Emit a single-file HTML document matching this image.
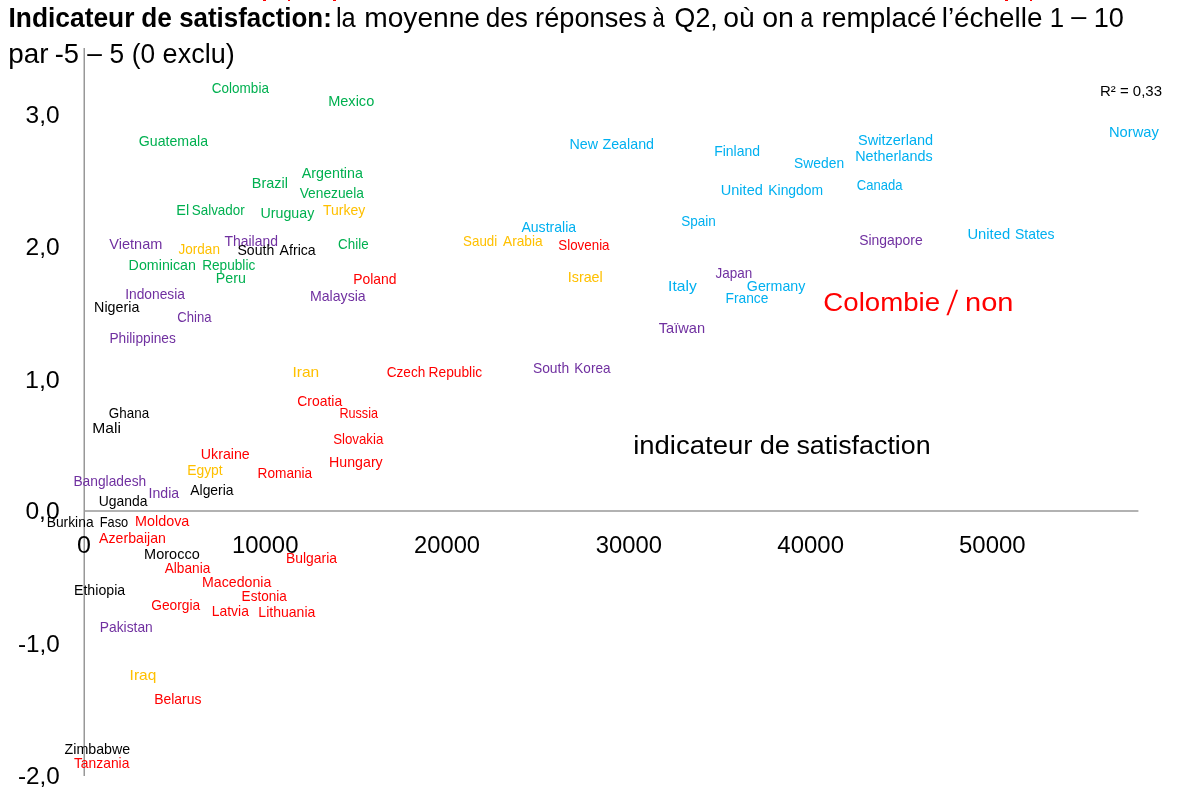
<!DOCTYPE html>
<html lang="fr"><head><meta charset="utf-8"><title>Indicateur de satisfaction</title>
<style>html,body{margin:0;padding:0;background:#fff;}svg{display:block;}text{font-family:"Liberation Sans",sans-serif;}</style></head><body>
<svg width="1181" height="793" viewBox="0 0 1181 793">
<rect width="1181" height="793" fill="#fff"/>
<rect x="263" y="0" width="3" height="1" fill="#ff0000"/>
<rect x="288" y="0" width="2" height="1" fill="#ff0000"/>
<rect x="333" y="0" width="3" height="1" fill="#ff0000"/>
<rect x="1005" y="0" width="3" height="1" fill="#ff0000"/>
<rect x="1030" y="0" width="2" height="1" fill="#ff0000"/>
<line x1="84.25" y1="48" x2="84.25" y2="776" stroke="#989898" stroke-width="1.5"/>
<line x1="84" y1="510.9" x2="1138.4" y2="510.9" stroke="#989898" stroke-width="1.5"/>
<text id="t0" x="8.55" y="26.8" font-size="27.2" fill="#000" font-weight="bold" textLength="125.88" lengthAdjust="spacingAndGlyphs">Indicateur</text>
<text id="t1" x="141.28" y="26.8" font-size="27.2" fill="#000" font-weight="bold" textLength="30.62" lengthAdjust="spacingAndGlyphs">de</text>
<text id="t2" x="179.15" y="26.8" font-size="27.2" fill="#000" font-weight="bold" textLength="152.62" lengthAdjust="spacingAndGlyphs">satisfaction:</text>
<text id="t3" x="335.94" y="26.8" font-size="27.2" fill="#000" textLength="19.78" lengthAdjust="spacingAndGlyphs">la</text>
<text id="t4" x="364.27" y="26.8" font-size="27.2" fill="#000" textLength="115.75" lengthAdjust="spacingAndGlyphs">moyenne</text>
<text id="t5" x="485.78" y="26.8" font-size="27.2" fill="#000" textLength="42.15" lengthAdjust="spacingAndGlyphs">des</text>
<text id="t6" x="535.08" y="26.8" font-size="27.2" fill="#000" textLength="111.89" lengthAdjust="spacingAndGlyphs">réponses</text>
<text id="t7" x="652.51" y="26.8" font-size="27.2" fill="#000" textLength="12.23" lengthAdjust="spacingAndGlyphs">à</text>
<text id="t8" x="674.60" y="26.8" font-size="27.2" fill="#000" textLength="43.07" lengthAdjust="spacingAndGlyphs">Q2,</text>
<text id="t9" x="723.24" y="26.8" font-size="27.2" fill="#000" textLength="31.45" lengthAdjust="spacingAndGlyphs">où</text>
<text id="t10" x="762.21" y="26.8" font-size="27.2" fill="#000" textLength="31.71" lengthAdjust="spacingAndGlyphs">on</text>
<text id="t11" x="800.38" y="26.8" font-size="27.2" fill="#000" textLength="12.66" lengthAdjust="spacingAndGlyphs">a</text>
<text id="t12" x="821.84" y="26.8" font-size="27.2" fill="#000" textLength="114.59" lengthAdjust="spacingAndGlyphs">remplacé</text>
<text id="t13" x="941.72" y="26.8" font-size="27.2" fill="#000" textLength="100.77" lengthAdjust="spacingAndGlyphs">l’échelle</text>
<text id="t14" x="1049.66" y="26.8" font-size="27.2" fill="#000" textLength="14.35" lengthAdjust="spacingAndGlyphs">1</text>
<text id="t15" x="1071.21" y="25.4" font-size="27.2" fill="#000" textLength="15.05" lengthAdjust="spacingAndGlyphs">–</text>
<text id="t16" x="1093.67" y="26.8" font-size="27.2" fill="#000" textLength="30.17" lengthAdjust="spacingAndGlyphs">10</text>
<text id="t17" x="8.35" y="62.9" font-size="27.2" fill="#000" textLength="40.23" lengthAdjust="spacingAndGlyphs">par</text>
<text id="t18" x="54.71" y="62.9" font-size="27.2" fill="#000" textLength="24.30" lengthAdjust="spacingAndGlyphs">-5</text>
<text id="t19" x="87.33" y="61.5" font-size="27.2" fill="#000" textLength="14.63" lengthAdjust="spacingAndGlyphs">–</text>
<text id="t20" x="109.52" y="62.9" font-size="27.2" fill="#000" textLength="14.62" lengthAdjust="spacingAndGlyphs">5</text>
<text id="t21" x="131.77" y="62.9" font-size="27.2" fill="#000" textLength="23.36" lengthAdjust="spacingAndGlyphs">(0</text>
<text id="t22" x="162.60" y="62.9" font-size="27.2" fill="#000" textLength="72.13" lengthAdjust="spacingAndGlyphs">exclu)</text>
<text id="t23" x="25.61" y="122.7" font-size="23.9" fill="#000" textLength="34.01" lengthAdjust="spacingAndGlyphs">3,0</text>
<text id="t24" x="25.56" y="255.2" font-size="23.9" fill="#000" textLength="34.12" lengthAdjust="spacingAndGlyphs">2,0</text>
<text id="t25" x="24.93" y="387.7" font-size="23.9" fill="#000" textLength="34.91" lengthAdjust="spacingAndGlyphs">1,0</text>
<text id="t26" x="25.42" y="519.2" font-size="23.9" fill="#000" textLength="34.22" lengthAdjust="spacingAndGlyphs">0,0</text>
<text id="t27" x="18.00" y="651.7" font-size="23.9" fill="#000" textLength="41.80" lengthAdjust="spacingAndGlyphs">-1,0</text>
<text id="t28" x="18.00" y="784.3" font-size="23.9" fill="#000" textLength="41.80" lengthAdjust="spacingAndGlyphs">-2,0</text>
<text id="t29" x="76.92" y="553.2" font-size="23.3" fill="#000" textLength="13.94" lengthAdjust="spacingAndGlyphs">0</text>
<text id="t30" x="231.95" y="553.2" font-size="23.3" fill="#000" textLength="66.53" lengthAdjust="spacingAndGlyphs">10000</text>
<text id="t31" x="414.06" y="553.2" font-size="23.3" fill="#000" textLength="66.01" lengthAdjust="spacingAndGlyphs">20000</text>
<text id="t32" x="595.89" y="553.2" font-size="23.3" fill="#000" textLength="66.22" lengthAdjust="spacingAndGlyphs">30000</text>
<text id="t33" x="777.38" y="553.2" font-size="23.3" fill="#000" textLength="66.60" lengthAdjust="spacingAndGlyphs">40000</text>
<text id="t34" x="959.06" y="553.2" font-size="23.3" fill="#000" textLength="66.55" lengthAdjust="spacingAndGlyphs">50000</text>
<text id="t35" x="633.19" y="454.0" font-size="26.5" fill="#000" textLength="119.20" lengthAdjust="spacingAndGlyphs">indicateur</text>
<text id="t36" x="759.74" y="454.0" font-size="26.5" fill="#000" textLength="30.25" lengthAdjust="spacingAndGlyphs">de</text>
<text id="t37" x="796.42" y="454.0" font-size="26.5" fill="#000" textLength="134.27" lengthAdjust="spacingAndGlyphs">satisfaction</text>
<text id="t38" x="823.39" y="310.6" font-size="26.5" fill="#ff0000" textLength="116.71" lengthAdjust="spacingAndGlyphs">Colombie</text>
<text id="t39" transform="translate(946.47,314.7) skewX(-9.5) scale(1,1.32)" x="0" y="0" font-size="26.5" fill="#ff0000">/</text>
<text id="t40" x="965.02" y="310.6" font-size="26.5" fill="#ff0000" textLength="48.44" lengthAdjust="spacingAndGlyphs">non</text>
<text id="t41" x="1100.03" y="96.0" font-size="14.8" fill="#000" textLength="61.98" lengthAdjust="spacingAndGlyphs">R² = 0,33</text>
<text id="t42" x="211.85" y="93.2" font-size="14.3" fill="#00b050" textLength="57.06" lengthAdjust="spacingAndGlyphs">Colombia</text>
<text id="t43" x="328.17" y="105.8" font-size="14.3" fill="#00b050" textLength="46.08" lengthAdjust="spacingAndGlyphs">Mexico</text>
<text id="t44" x="138.79" y="145.8" font-size="14.3" fill="#00b050" textLength="69.26" lengthAdjust="spacingAndGlyphs">Guatemala</text>
<text id="t45" x="301.75" y="177.8" font-size="14.3" fill="#00b050" textLength="61.20" lengthAdjust="spacingAndGlyphs">Argentina</text>
<text id="t46" x="251.87" y="187.8" font-size="14.3" fill="#00b050" textLength="36.09" lengthAdjust="spacingAndGlyphs">Brazil</text>
<text id="t47" x="299.66" y="198.2" font-size="14.3" fill="#00b050" textLength="64.31" lengthAdjust="spacingAndGlyphs">Venezuela</text>
<text id="t48" x="176.32" y="214.6" font-size="14.3" fill="#00b050" textLength="12.90" lengthAdjust="spacingAndGlyphs">El</text>
<text id="t49" x="191.76" y="214.6" font-size="14.3" fill="#00b050" textLength="52.97" lengthAdjust="spacingAndGlyphs">Salvador</text>
<text id="t50" x="260.51" y="217.8" font-size="14.3" fill="#00b050" textLength="53.79" lengthAdjust="spacingAndGlyphs">Uruguay</text>
<text id="t51" x="323.04" y="214.6" font-size="14.3" fill="#ffc000" textLength="42.19" lengthAdjust="spacingAndGlyphs">Turkey</text>
<text id="t52" x="109.33" y="248.8" font-size="14.3" fill="#7030a0" textLength="53.07" lengthAdjust="spacingAndGlyphs">Vietnam</text>
<text id="t53" x="178.60" y="254.4" font-size="14.3" fill="#ffc000" textLength="41.31" lengthAdjust="spacingAndGlyphs">Jordan</text>
<text id="t54" x="224.42" y="246.2" font-size="14.3" fill="#7030a0" textLength="53.51" lengthAdjust="spacingAndGlyphs">Thailand</text>
<text id="t55" x="237.46" y="255.4" font-size="14.3" fill="#000000" textLength="36.77" lengthAdjust="spacingAndGlyphs">South</text>
<text id="t56" x="279.58" y="255.4" font-size="14.3" fill="#000000" textLength="36.14" lengthAdjust="spacingAndGlyphs">Africa</text>
<text id="t57" x="338.08" y="248.8" font-size="14.3" fill="#00b050" textLength="30.53" lengthAdjust="spacingAndGlyphs">Chile</text>
<text id="t58" x="128.61" y="269.8" font-size="14.3" fill="#00b050" textLength="67.36" lengthAdjust="spacingAndGlyphs">Dominican</text>
<text id="t59" x="202.13" y="269.8" font-size="14.3" fill="#00b050" textLength="53.13" lengthAdjust="spacingAndGlyphs">Republic</text>
<text id="t60" x="215.76" y="283.3" font-size="14.3" fill="#00b050" textLength="30.11" lengthAdjust="spacingAndGlyphs">Peru</text>
<text id="t61" x="353.20" y="284.4" font-size="14.3" fill="#ff0000" textLength="43.31" lengthAdjust="spacingAndGlyphs">Poland</text>
<text id="t62" x="125.14" y="298.8" font-size="14.3" fill="#7030a0" textLength="59.82" lengthAdjust="spacingAndGlyphs">Indonesia</text>
<text id="t63" x="309.90" y="300.8" font-size="14.3" fill="#7030a0" textLength="55.86" lengthAdjust="spacingAndGlyphs">Malaysia</text>
<text id="t64" x="94.07" y="312.3" font-size="14.3" fill="#000000" textLength="45.27" lengthAdjust="spacingAndGlyphs">Nigeria</text>
<text id="t65" x="177.22" y="321.5" font-size="14.3" fill="#7030a0" textLength="34.24" lengthAdjust="spacingAndGlyphs">China</text>
<text id="t66" x="109.44" y="343.1" font-size="14.3" fill="#7030a0" textLength="66.40" lengthAdjust="spacingAndGlyphs">Philippines</text>
<text id="t67" x="292.52" y="376.5" font-size="14.3" fill="#ffc000" textLength="26.71" lengthAdjust="spacingAndGlyphs">Iran</text>
<text id="t68" x="297.27" y="406.1" font-size="14.3" fill="#ff0000" textLength="44.90" lengthAdjust="spacingAndGlyphs">Croatia</text>
<text id="t69" x="339.39" y="418.4" font-size="14.3" fill="#ff0000" textLength="38.67" lengthAdjust="spacingAndGlyphs">Russia</text>
<text id="t70" x="108.85" y="418.4" font-size="14.3" fill="#000000" textLength="40.28" lengthAdjust="spacingAndGlyphs">Ghana</text>
<text id="t71" x="92.24" y="433.0" font-size="14.3" fill="#000000" textLength="28.66" lengthAdjust="spacingAndGlyphs">Mali</text>
<text id="t72" x="333.17" y="443.8" font-size="14.3" fill="#ff0000" textLength="50.19" lengthAdjust="spacingAndGlyphs">Slovakia</text>
<text id="t73" x="200.82" y="458.5" font-size="14.3" fill="#ff0000" textLength="48.96" lengthAdjust="spacingAndGlyphs">Ukraine</text>
<text id="t74" x="329.06" y="467.4" font-size="14.3" fill="#ff0000" textLength="53.68" lengthAdjust="spacingAndGlyphs">Hungary</text>
<text id="t75" x="187.21" y="475.2" font-size="14.3" fill="#ffc000" textLength="35.45" lengthAdjust="spacingAndGlyphs">Egypt</text>
<text id="t76" x="257.54" y="478.3" font-size="14.3" fill="#ff0000" textLength="54.69" lengthAdjust="spacingAndGlyphs">Romania</text>
<text id="t77" x="73.42" y="486.1" font-size="14.3" fill="#7030a0" textLength="72.82" lengthAdjust="spacingAndGlyphs">Bangladesh</text>
<text id="t78" x="148.53" y="498.0" font-size="14.3" fill="#7030a0" textLength="30.61" lengthAdjust="spacingAndGlyphs">India</text>
<text id="t79" x="190.27" y="495.0" font-size="14.3" fill="#000000" textLength="43.29" lengthAdjust="spacingAndGlyphs">Algeria</text>
<text id="t80" x="98.67" y="506.2" font-size="14.3" fill="#000000" textLength="48.76" lengthAdjust="spacingAndGlyphs">Uganda</text>
<text id="t81" x="46.66" y="527.3" font-size="14.3" fill="#000000" textLength="46.94" lengthAdjust="spacingAndGlyphs">Burkina</text>
<text id="t82" x="99.72" y="527.3" font-size="14.3" fill="#000000" textLength="28.55" lengthAdjust="spacingAndGlyphs">Faso</text>
<text id="t83" x="135.00" y="526.3" font-size="14.3" fill="#ff0000" textLength="54.31" lengthAdjust="spacingAndGlyphs">Moldova</text>
<text id="t84" x="99.10" y="543.0" font-size="14.3" fill="#ff0000" textLength="66.84" lengthAdjust="spacingAndGlyphs">Azerbaijan</text>
<text id="t85" x="144.12" y="559.2" font-size="14.3" fill="#000000" textLength="55.60" lengthAdjust="spacingAndGlyphs">Morocco</text>
<text id="t86" x="285.95" y="562.6" font-size="14.3" fill="#ff0000" textLength="51.04" lengthAdjust="spacingAndGlyphs">Bulgaria</text>
<text id="t87" x="164.71" y="572.8" font-size="14.3" fill="#ff0000" textLength="45.67" lengthAdjust="spacingAndGlyphs">Albania</text>
<text id="t88" x="202.07" y="587.4" font-size="14.3" fill="#ff0000" textLength="69.24" lengthAdjust="spacingAndGlyphs">Macedonia</text>
<text id="t89" x="73.99" y="594.8" font-size="14.3" fill="#000000" textLength="51.18" lengthAdjust="spacingAndGlyphs">Ethiopia</text>
<text id="t90" x="241.60" y="601.3" font-size="14.3" fill="#ff0000" textLength="45.18" lengthAdjust="spacingAndGlyphs">Estonia</text>
<text id="t91" x="151.18" y="609.5" font-size="14.3" fill="#ff0000" textLength="49.00" lengthAdjust="spacingAndGlyphs">Georgia</text>
<text id="t92" x="211.76" y="616.3" font-size="14.3" fill="#ff0000" textLength="37.15" lengthAdjust="spacingAndGlyphs">Latvia</text>
<text id="t93" x="258.34" y="616.8" font-size="14.3" fill="#ff0000" textLength="57.05" lengthAdjust="spacingAndGlyphs">Lithuania</text>
<text id="t94" x="99.83" y="632.3" font-size="14.3" fill="#7030a0" textLength="52.95" lengthAdjust="spacingAndGlyphs">Pakistan</text>
<text id="t95" x="129.58" y="679.8" font-size="14.3" fill="#ffc000" textLength="26.66" lengthAdjust="spacingAndGlyphs">Iraq</text>
<text id="t96" x="154.16" y="703.5" font-size="14.3" fill="#ff0000" textLength="47.30" lengthAdjust="spacingAndGlyphs">Belarus</text>
<text id="t97" x="64.59" y="753.8" font-size="14.3" fill="#000000" textLength="65.61" lengthAdjust="spacingAndGlyphs">Zimbabwe</text>
<text id="t98" x="73.92" y="768.1" font-size="14.3" fill="#ff0000" textLength="55.47" lengthAdjust="spacingAndGlyphs">Tanzania</text>
<text id="t99" x="569.54" y="148.8" font-size="14.3" fill="#00b0f0" textLength="28.54" lengthAdjust="spacingAndGlyphs">New</text>
<text id="t100" x="602.47" y="148.8" font-size="14.3" fill="#00b0f0" textLength="51.56" lengthAdjust="spacingAndGlyphs">Zealand</text>
<text id="t101" x="714.13" y="155.7" font-size="14.3" fill="#00b0f0" textLength="45.91" lengthAdjust="spacingAndGlyphs">Finland</text>
<text id="t102" x="720.78" y="194.5" font-size="14.3" fill="#00b0f0" textLength="42.05" lengthAdjust="spacingAndGlyphs">United</text>
<text id="t103" x="768.26" y="194.5" font-size="14.3" fill="#00b0f0" textLength="54.94" lengthAdjust="spacingAndGlyphs">Kingdom</text>
<text id="t104" x="681.22" y="226.4" font-size="14.3" fill="#00b0f0" textLength="34.70" lengthAdjust="spacingAndGlyphs">Spain</text>
<text id="t105" x="521.38" y="231.8" font-size="14.3" fill="#00b0f0" textLength="54.77" lengthAdjust="spacingAndGlyphs">Australia</text>
<text id="t106" x="463.09" y="245.8" font-size="14.3" fill="#ffc000" textLength="34.12" lengthAdjust="spacingAndGlyphs">Saudi</text>
<text id="t107" x="503.04" y="245.8" font-size="14.3" fill="#ffc000" textLength="39.63" lengthAdjust="spacingAndGlyphs">Arabia</text>
<text id="t108" x="558.30" y="250.0" font-size="14.3" fill="#ff0000" textLength="51.26" lengthAdjust="spacingAndGlyphs">Slovenia</text>
<text id="t109" x="567.75" y="282.0" font-size="14.3" fill="#ffc000" textLength="35.03" lengthAdjust="spacingAndGlyphs">Israel</text>
<text id="t110" x="715.50" y="278.2" font-size="14.3" fill="#7030a0" textLength="36.77" lengthAdjust="spacingAndGlyphs">Japan</text>
<text id="t111" x="668.07" y="290.8" font-size="14.3" fill="#00b0f0" textLength="28.67" lengthAdjust="spacingAndGlyphs">Italy</text>
<text id="t112" x="725.50" y="303.1" font-size="14.3" fill="#00b0f0" textLength="42.95" lengthAdjust="spacingAndGlyphs">France</text>
<text id="t113" x="746.86" y="290.8" font-size="14.3" fill="#00b0f0" textLength="58.49" lengthAdjust="spacingAndGlyphs">Germany</text>
<text id="t114" x="658.76" y="332.9" font-size="14.3" fill="#7030a0" textLength="46.38" lengthAdjust="spacingAndGlyphs">Taïwan</text>
<text id="t115" x="1108.98" y="137.3" font-size="14.3" fill="#00b0f0" textLength="49.85" lengthAdjust="spacingAndGlyphs">Norway</text>
<text id="t116" x="858.08" y="144.8" font-size="14.3" fill="#00b0f0" textLength="75.10" lengthAdjust="spacingAndGlyphs">Switzerland</text>
<text id="t117" x="855.19" y="161.1" font-size="14.3" fill="#00b0f0" textLength="77.48" lengthAdjust="spacingAndGlyphs">Netherlands</text>
<text id="t118" x="794.12" y="167.6" font-size="14.3" fill="#00b0f0" textLength="49.99" lengthAdjust="spacingAndGlyphs">Sweden</text>
<text id="t119" x="856.82" y="190.1" font-size="14.3" fill="#00b0f0" textLength="45.81" lengthAdjust="spacingAndGlyphs">Canada</text>
<text id="t120" x="859.17" y="244.6" font-size="14.3" fill="#7030a0" textLength="63.55" lengthAdjust="spacingAndGlyphs">Singapore</text>
<text id="t121" x="967.44" y="238.8" font-size="14.3" fill="#00b0f0" textLength="42.72" lengthAdjust="spacingAndGlyphs">United</text>
<text id="t122" x="1014.93" y="238.8" font-size="14.3" fill="#00b0f0" textLength="39.66" lengthAdjust="spacingAndGlyphs">States</text>
<text id="t123" x="386.78" y="377.2" font-size="14.3" fill="#ff0000" textLength="38.50" lengthAdjust="spacingAndGlyphs">Czech</text>
<text id="t124" x="428.53" y="377.2" font-size="14.3" fill="#ff0000" textLength="53.61" lengthAdjust="spacingAndGlyphs">Republic</text>
<text id="t125" x="532.89" y="373.1" font-size="14.3" fill="#7030a0" textLength="36.28" lengthAdjust="spacingAndGlyphs">South</text>
<text id="t126" x="574.29" y="373.1" font-size="14.3" fill="#7030a0" textLength="36.23" lengthAdjust="spacingAndGlyphs">Korea</text>
</svg></body></html>
